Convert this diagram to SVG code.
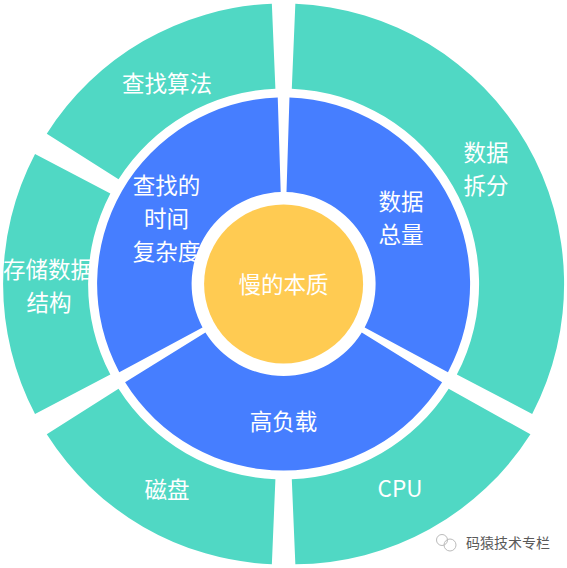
<svg xmlns="http://www.w3.org/2000/svg" width="567" height="568" viewBox="0 0 567 568">
<style>
.outer{fill:#50D8C4}
.inner{fill:#467EFF}
.core{fill:#FFCB52}
.lbl{fill:#FFFFFF;font-family:"Noto Sans CJK SC","Noto Sans",sans-serif;font-size:22.5px;text-anchor:middle}
.wm{fill:#5A5A5A;font-family:"Noto Sans CJK SC",sans-serif;font-size:14px}
</style>
<rect width="567" height="568" fill="#FFFFFF"/>
<g id="connectors"></g>
<g id="n-split">
<path class="outer" d="M 532.18 413.96 A 280.5 280.5 0 0 0 295.35 3.75 L 291.79 88.67 A 195.5 195.5 0 0 1 456.85 374.58 Z"/>
<text class="lbl" x="486" y="160.6">数据</text>
<text class="lbl" x="486" y="193.6">拆分</text>
</g>
<g id="n-search-alg">
<path class="outer" d="M 271.85 3.75 A 280.5 280.5 0 0 0 46.77 133.70 L 118.53 179.25 A 195.5 195.5 0 0 1 275.41 88.67 Z"/>
<text class="lbl" x="167" y="91.6">查找算法</text>
</g>
<g id="n-struct">
<path class="outer" d="M 35.02 154.04 A 280.5 280.5 0 0 0 35.02 413.96 L 110.35 374.58 A 195.5 195.5 0 0 1 110.35 193.42 Z"/>
<text class="lbl" x="48" y="277.6">存储数据</text>
<text class="lbl" x="49" y="310.6">结构</text>
</g>
<g id="n-disk">
<path class="outer" d="M 46.77 434.30 A 280.5 280.5 0 0 0 271.85 564.25 L 275.41 479.33 A 195.5 195.5 0 0 1 118.53 388.75 Z"/>
<text class="lbl" x="167" y="498.2">磁盘</text>
</g>
<g id="n-cpu">
<path class="outer" d="M 295.35 564.25 A 280.5 280.5 0 0 0 530.43 434.30 L 448.67 388.75 A 195.5 195.5 0 0 1 291.79 479.33 Z"/>
<text class="lbl" x="400" y="497.3">CPU</text>
</g>
<g id="n-volume">
<path class="inner" d="M 447.96 372.13 A 186.5 186.5 0 0 0 289.46 97.59 L 286.49 192.05 A 92 92 0 0 1 364.68 327.47 Z"/>
<text class="lbl" x="401" y="210.2">数据</text>
<text class="lbl" x="401" y="243.2">总量</text>
</g>
<g id="n-complexity">
<path class="inner" d="M 277.74 97.59 A 186.5 186.5 0 0 0 119.24 372.13 L 202.52 327.47 A 92 92 0 0 1 280.71 192.05 Z"/>
<text class="lbl" x="166.5" y="193.6">查找的</text>
<text class="lbl" x="166.5" y="226.6">时间</text>
<text class="lbl" x="166.5" y="259.6">复杂度</text>
</g>
<g id="n-load">
<path class="inner" d="M 125.10 382.28 A 186.5 186.5 0 0 0 442.10 382.28 L 361.79 332.48 A 92 92 0 0 1 205.41 332.48 Z"/>
<text class="lbl" x="283.6" y="430.2">高负载</text>
</g>
<g id="n-core">
<circle class="core" cx="283.6" cy="284" r="79.5"/>
<text class="lbl" x="283.6" y="293.2">慢的本质</text>
</g>
<g id="watermark">
<circle cx="442" cy="540" r="5.5" fill="none" stroke="#BBBBBB" stroke-width="1"/>
<circle cx="450" cy="545" r="6" fill="none" stroke="#BBBBBB" stroke-width="1"/>
<text class="wm" x="466" y="547.5">码猿技术专栏</text>
</g>
</svg>
